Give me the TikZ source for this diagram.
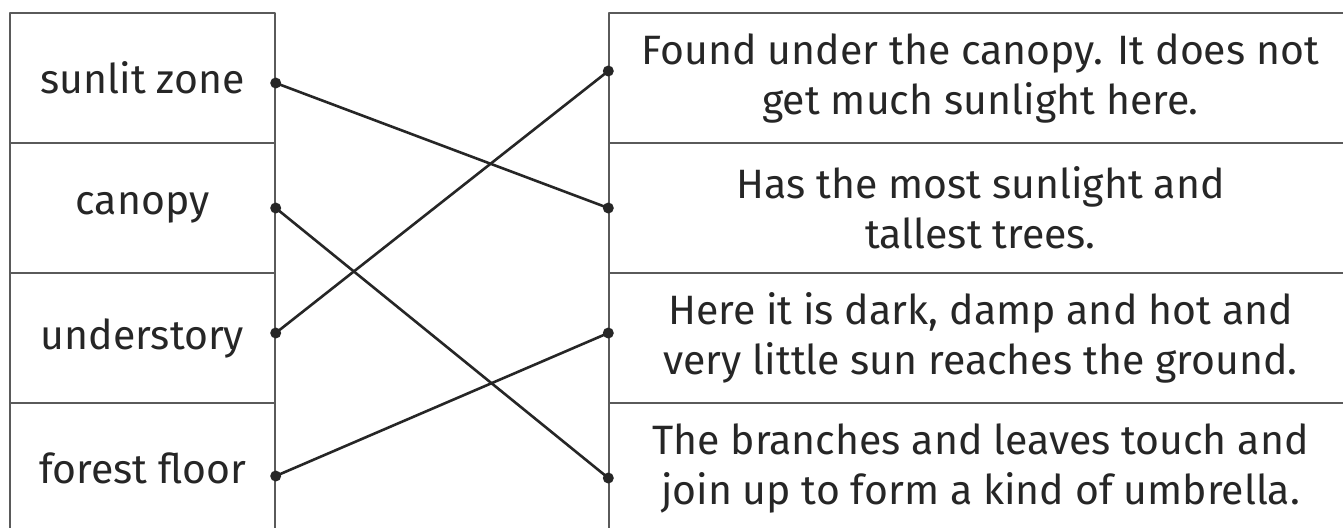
\documentclass[tikz,border=0pt]{standalone}
\usepackage{fontspec}
\setmainfont{Fira Sans}
\usetikzlibrary{calc}
\definecolor{boxgray}{HTML}{5A5A5A}
\definecolor{inkgray}{HTML}{262626}
\tikzstyle{zone}=[draw=boxgray, line width=0.7pt, minimum width=132.5pt, minimum height=65pt, inner sep=0pt, text=inkgray, font=\fontsize{20.5}{25}\selectfont]
\tikzstyle{fact}=[zone, minimum width=371.5pt, align=center]
\tikzstyle{link}=[draw=inkgray, line width=1.3pt]

\begin{document}
\begin{tikzpicture}[x=0.5pt, y=-0.5pt, line join=round]
	\useasboundingbox (0,0) rectangle (1343,527);
	\clip (0,0) rectangle (1343,527);
	\fill[white] (0,0) rectangle (1343,527);

	% left column
	\node[zone] (sunlit) at (142.5,78) {sunlit zone};
	\node[zone] (canopy) at (142.5,208) {canopy};
	\node[zone] (under) at (142.5,338) {understory};
	\node[zone] (floor) at (142.5,468) {forest floor};

	% right column
	\node[fact] (f1) at (980.5,78) {Found under the canopy. It does not\\get much sunlight here.};
	\node[fact] (f2) at (980.5,208) {Has the most sunlight and\\tallest trees.};
	\node[fact] (f3) at (980.5,338) {Here it is dark, damp and hot and\\very little sun reaches the ground.};
	\node[fact] (f4) at (980.5,468) {The branches and leaves touch and\\join up to form a kind of umbrella.};

	% dot positions
	\coordinate (sunlitdot) at ($(sunlit.east)+(0,5)$);
	\coordinate (canopydot) at (canopy.east);
	\coordinate (underdot) at ($(under.east)+(0,-5)$);
	\coordinate (floordot) at ($(floor.east)+(0,8)$);
	\coordinate (f1dot) at ($(f1.west)+(0,-7)$);
	\coordinate (f2dot) at (f2.west);
	\coordinate (f3dot) at ($(f3.west)+(0,-5)$);
	\coordinate (f4dot) at ($(f4.west)+(0,10)$);

	\draw[link] (sunlitdot) -- (f2dot);
	\draw[link] (canopydot) -- (f4dot);
	\draw[link] (underdot) -- (f1dot);
	\draw[link] (floordot) -- (f3dot);

	% dots
	\foreach \dot in {sunlitdot,canopydot,underdot,floordot,f1dot,f2dot,f3dot,f4dot}
	\fill[inkgray] (\dot) circle (5.5);
\end{tikzpicture}
\end{document}
